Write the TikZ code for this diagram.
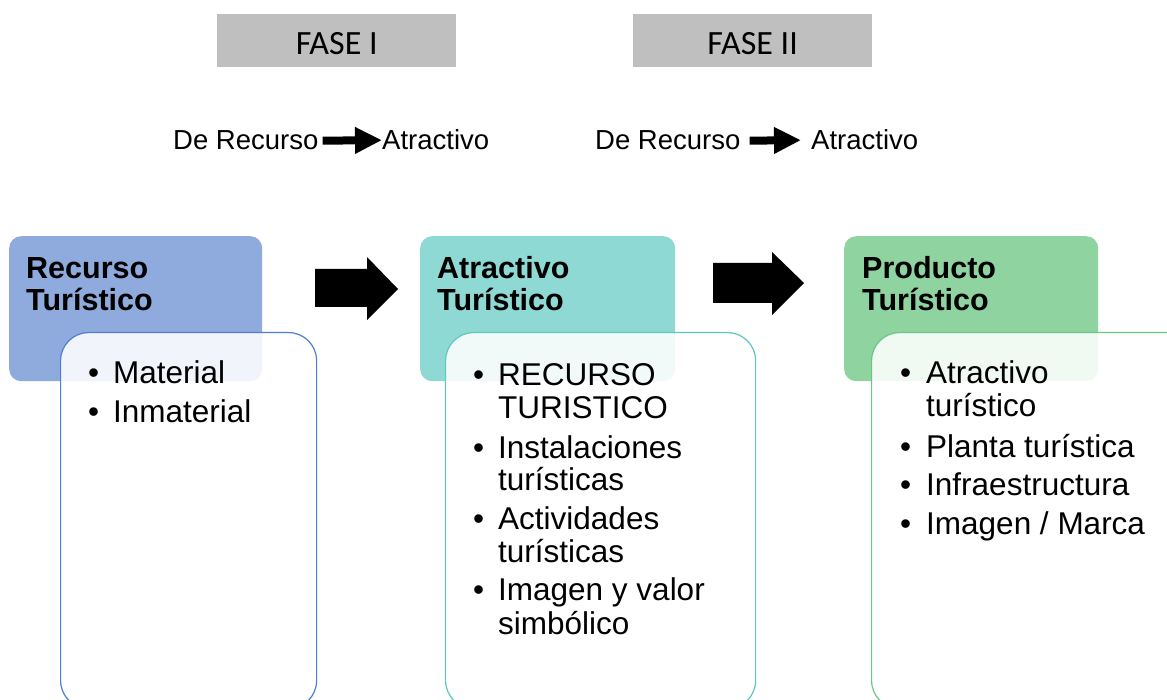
\documentclass[tikz,border=0pt]{standalone}
\usepackage{fontspec}
\setmainfont{Liberation Sans}
\newfontfamily\calibrifont{Carlito}
\usetikzlibrary{arrows.meta}
\definecolor{phasegray}{HTML}{BFBFBF}
\definecolor{hblue}{HTML}{8FAADC}
\definecolor{bblue}{HTML}{4F7FD0}
\definecolor{hteal}{HTML}{8ED9D3}
\definecolor{bteal}{HTML}{5CC8BE}
\definecolor{hgreen}{HTML}{8FD3A1}
\definecolor{bgreen}{HTML}{6CC786}
\begin{document}
\begin{tikzpicture}[x=1pt,y=-1pt,
  phase/.style={fill=phasegray, draw=none, inner sep=0pt, minimum width=239pt, minimum height=53pt,
     text height=40pt, text depth=13pt, font=\calibrifont\fontsize{34}{40}\selectfont, anchor=north west},
  hdr/.style={draw=none, rounded corners=12pt, minimum width=253pt, minimum height=145pt, inner sep=0pt, anchor=north west},
  body/.style={fill=white, fill opacity=0.88, line width=1.2pt, rounded corners=28pt, minimum height=376pt, inner sep=0pt, anchor=north west},
  htxt/.style={inner sep=0pt, anchor=base west, font=\bfseries\fontsize{30.5}{32}\selectfont},
  itxt/.style={inner sep=0pt, anchor=base west, font=\fontsize{31.5}{33}\selectfont},
  small/.style={inner sep=0pt, anchor=base west, font=\fontsize{27.5}{30}\selectfont},
  smallarrow/.style={line width=8pt, -{Triangle[length=27pt,width=25pt]}},
  blockarrow/.style={fill=black}
]
\useasboundingbox (0,0) rectangle (1167,700);
\clip (0,0) rectangle (1167,700);
\fill[white] (0,0) rectangle (1167,700);

% phase labels
\node[phase] (f1) at (217,14) {FASE I};
\node[phase] (f2) at (633,14) {FASE II};

% De Recurso -> Atractivo
\node[small] (dr1) at (173,150) {De Recurso};
\node[small] (at1) at (382,150) {Atractivo};
\draw[smallarrow] ([xshift=4pt]dr1.east) -- (at1.west);
\node[small] (dr2) at (595,150) {De Recurso};
\node[small] (at2) at (811,150) {Atractivo};
\draw[smallarrow] ([xshift=9pt]dr2.east) -- ([xshift=-10pt]at2.west);

% header boxes
\node[hdr, fill=hblue] (h1) at (9,236) {};
\node[hdr, fill=hteal, minimum width=255pt] (h2) at (420,236) {};
\node[hdr, fill=hgreen, minimum width=254pt] (h3) at (844,236) {};

% body boxes
\node[body, draw=bblue, minimum width=256pt] (b1) at (60,332) {};
\node[body, draw=bteal, minimum width=310pt] (b2) at (445,332) {};
\node[body, draw=bgreen, minimum width=330pt] (b3) at (871,332) {};

% header texts
\node[htxt] (h1a) at (26,279) {Recurso};
\node[htxt] (h1b) at (26,311) {Turístico};
\node[htxt] (h2a) at (437,279) {Atractivo};
\node[htxt] (h2b) at (437,311) {Turístico};
\node[htxt] (h3a) at (862,279) {Producto};
\node[htxt] (h3b) at (862,311) {Turístico};

% block arrows
\fill[blockarrow] (315,269) -- (367,269) -- (367,257) -- (398,289) -- (367,320) -- (367,307) -- (315,307) -- cycle;
\fill[blockarrow] (713,263) -- (772,263) -- (772,252) -- (804,283) -- (772,315) -- (772,303) -- (713,303) -- cycle;

% left items
\node[itxt] (l1d) at (88,384) {•};
\node[itxt] (l1) at (113,384) {Material};
\node[itxt] (l2d) at (88,422) {•};
\node[itxt] (l2) at (113,422) {Inmaterial};

% middle items
\node[itxt] (m1d) at (473,385) {•};
\node[itxt] (m1a) at (498,385) {RECURSO};
\node[itxt] (m1b) at (498,418) {TURISTICO};
\node[itxt] (m2d) at (473,458) {•};
\node[itxt] (m2a) at (498,458) {Instalaciones};
\node[itxt] (m2b) at (498,490) {turísticas};
\node[itxt] (m3d) at (473,529) {•};
\node[itxt] (m3a) at (498,529) {Actividades};
\node[itxt] (m3b) at (498,562) {turísticas};
\node[itxt] (m4d) at (473,600) {•};
\node[itxt] (m4a) at (498,600) {Imagen y valor};
\node[itxt] (m4b) at (498,634) {simbólico};

% right items
\node[itxt] (r1d) at (900,384) {•};
\node[itxt] (r1a) at (926,384) {Atractivo};
\node[itxt] (r1b) at (926,417) {turístico};
\node[itxt] (r2d) at (900,457) {•};
\node[itxt] (r2) at (926,457) {Planta turística};
\node[itxt] (r3d) at (900,495) {•};
\node[itxt] (r3) at (926,495) {Infraestructura};
\node[itxt] (r4d) at (900,534) {•};
\node[itxt] (r4) at (926,534) {Imagen / Marca};
\end{tikzpicture}
\end{document}
